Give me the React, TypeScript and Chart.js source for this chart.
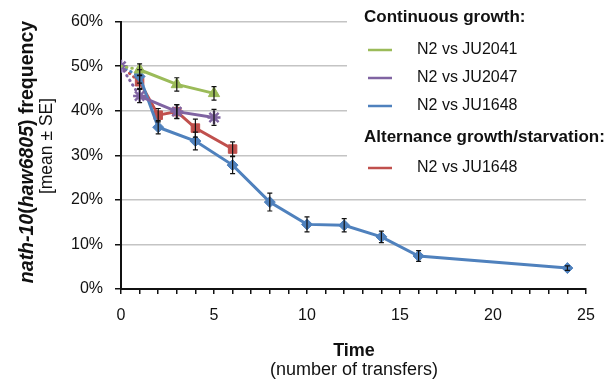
import React, { useEffect, useRef } from "react";
import { Chart, registerables } from "chart.js";

Chart.register(...registerables);

// ---- Data (frequency in %, x = number of transfers) ----
const seriesNames = ["N2 vs JU2041", "N2 vs JU2047", "N2 vs JU1648", "N2 vs JU1648"];

const greenX = [0, 1, 3, 5];
const greenY = [50, 49.2, 45.9, 43.9];
const greenErr = [0, 1.3, 1.5, 1.5];

const purpleX = [0, 1, 3, 5];
const purpleY = [50, 43.3, 39.8, 38.5];
const purpleErr = [0, 1.5, 1.6, 1.8];

const blueX = [0, 1, 2, 4, 6, 8, 10, 12, 14, 16, 24];
const blueY = [50, 47.7, 36.3, 33.2, 27.8, 19.5, 14.5, 14.3, 11.7, 7.4, 4.7];
const blueErr = [0, 1.5, 1.5, 2.0, 1.9, 2.0, 1.7, 1.5, 1.3, 1.2, 0.5];

const redX = [0, 1, 2, 3, 4, 6];
const redY = [50, 46.5, 39.0, 39.8, 36.1, 31.4];
const redErr = [0, 1.5, 1.5, 1.5, 2.0, 1.6];

const yTicks = [0, 10, 20, 30, 40, 50, 60];
const xLabelTicks = [0, 5, 10, 15, 20, 25];

const colors = ["#9bbb59", "#8064a2", "#4f81bd", "#c0504d"];
const FONT = "'Liberation Sans', Arial, sans-serif";

function pts(xs: number[], ys: number[]) {
  return xs.map((x, i) => ({ x, y: ys[i] }));
}

const errSets = [greenErr, purpleErr, blueErr, redErr];

const errorBarPlugin = {
  id: "errorBars",
  afterDatasetsDraw(chart: any) {
    const ctx = chart.ctx;
    const xs = chart.scales.x;
    const ys = chart.scales.y;
    ctx.save();
    ctx.strokeStyle = "#111";
    ctx.lineWidth = 1.2;
    chart.data.datasets.forEach((ds: any, i: number) => {
      const errs = errSets[i];
      ds.data.forEach((p: any, j: number) => {
        const e = errs[j];
        if (!e) return;
        const px = xs.getPixelForValue(p.x);
        const t = ys.getPixelForValue(p.y + e);
        const b = ys.getPixelForValue(p.y - e);
        ctx.beginPath();
        ctx.moveTo(px, t);
        ctx.lineTo(px, b);
        ctx.moveTo(px - 2.5, t);
        ctx.lineTo(px + 2.5, t);
        ctx.moveTo(px - 2.5, b);
        ctx.lineTo(px + 2.5, b);
        ctx.stroke();
      });
    });
    ctx.restore();
  },
};

const decorPlugin = {
  id: "decor",
  afterDraw(chart: any) {
    const ctx = chart.ctx;
    ctx.save();
    // legend background
    ctx.fillStyle = "#ffffff";
    ctx.fillRect(347, 0, 266, 189);
    ctx.textBaseline = "middle";
    ctx.textAlign = "left";
    ctx.fillStyle = "#111";
    ctx.font = `bold 17px ${FONT}`;
    ctx.fillText("Continuous growth:", 364, 17);
    ctx.fillText("Alternance growth/starvation:", 364, 137);
    const items = [
      { c: colors[0], t: seriesNames[0], y: 50 },
      { c: colors[1], t: seriesNames[1], y: 78 },
      { c: colors[2], t: seriesNames[2], y: 106 },
      { c: colors[3], t: seriesNames[3], y: 168 },
    ];
    ctx.font = `16px ${FONT}`;
    items.forEach((it) => {
      ctx.strokeStyle = it.c;
      ctx.lineWidth = 2.5;
      ctx.beginPath();
      ctx.moveTo(368, it.y);
      ctx.lineTo(392, it.y);
      ctx.stroke();
      ctx.fillStyle = "#111";
      ctx.fillText(it.t, 417, it.y);
    });

    // x axis title
    ctx.textAlign = "center";
    ctx.font = `bold 18px ${FONT}`;
    ctx.fillText("Time", 354, 351);
    ctx.font = `18px ${FONT}`;
    ctx.fillText("(number of transfers)", 354, 370);

    // y axis title (rotated)
    ctx.save();
    ctx.translate(28, 152);
    ctx.rotate(-Math.PI / 2);
    const segs = [
      { t: "nath-10", f: `italic bold 19.5px ${FONT}` },
      { t: "(", f: `bold 19.5px ${FONT}` },
      { t: "haw6805", f: `italic bold 19.5px ${FONT}` },
      { t: ") frequency", f: `bold 19.5px ${FONT}` },
    ];
    let total = 0;
    segs.forEach((s) => {
      ctx.font = s.f;
      total += ctx.measureText(s.t).width;
    });
    let cx = -total / 2;
    ctx.textAlign = "left";
    segs.forEach((s) => {
      ctx.font = s.f;
      ctx.fillText(s.t, cx, 0);
      cx += ctx.measureText(s.t).width;
    });
    ctx.restore();
    ctx.save();
    ctx.translate(47, 146);
    ctx.rotate(-Math.PI / 2);
    ctx.textAlign = "center";
    ctx.font = `17.5px ${FONT}`;
    ctx.fillText("[mean ± SE]", 0, 0);
    ctx.restore();

    ctx.restore();
  },
};

function makeDataset(i: number, xs: number[], ys: number[], style: string, r: number) {
  return {
    label: seriesNames[i],
    data: pts(xs, ys),
    borderColor: colors[i],
    backgroundColor: colors[i],
    pointBackgroundColor: colors[i],
    pointBorderColor: colors[i],
    borderWidth: 3,
    pointStyle: style,
    pointRadius: xs.map((_, j) => (j === 0 ? (i === 1 ? r : 0) : r)),
    pointBorderWidth: style === "star" ? 2.5 : 1,
    borderCapStyle: "round",
    tension: 0,
    segment: {
      borderDash: (c: any) => (c.p0DataIndex === 0 ? [0.5, 5] : undefined),
    },
  };
}

export default function App() {
  const ref = useRef<HTMLCanvasElement>(null);
  useEffect(() => {
    if (!ref.current) return;
    const chart = new Chart(ref.current, {
      type: "line",
      data: {
        datasets: [
          makeDataset(0, greenX, greenY, "triangle", 6.5),
          makeDataset(1, purpleX, purpleY, "star", 6.5),
          makeDataset(2, blueX, blueY, "rectRot", 5.5),
          makeDataset(3, redX, redY, "rect", 6),
        ] as any,
      },
      options: {
        responsive: false,
        animation: false,
        layout: { padding: { top: 18, right: 27, bottom: 0, left: 0 } },
        plugins: { legend: { display: false }, tooltip: { enabled: false } },
        scales: {
          x: {
            type: "linear",
            min: 0,
            max: 25,
            afterFit: (s: any) => {
              s.height = 99;
            },
            afterBuildTicks: (s: any) => {
              const t = [];
              for (let v = 0; v <= 25; v++) t.push({ value: v });
              s.ticks = t;
            },
            ticks: {
              autoSkip: false,
              maxRotation: 0,
              padding: 12,
              color: "#111",
              font: { family: FONT, size: 16 },
              callback: (v: any) => (xLabelTicks.includes(Number(v)) ? String(v) : ""),
            },
            grid: {
              drawOnChartArea: false,
              drawTicks: true,
              tickLength: 5,
              tickColor: "#111",
              lineWidth: 1.5,
            },
            border: { display: true, color: "#111", width: 2 },
          },
          y: {
            min: 0,
            max: 60,
            afterFit: (s: any) => {
              s.width = 121;
            },
            afterBuildTicks: (s: any) => {
              s.ticks = yTicks.map((v) => ({ value: v }));
            },
            ticks: {
              padding: 12,
              color: "#111",
              font: { family: FONT, size: 16 },
              callback: (v: any) => v + "%",
            },
            grid: {
              color: "#c4c4c4",
              lineWidth: 1.5,
              tickLength: 6,
              tickColor: "#111",
            },
            border: { display: true, color: "#111", width: 2 },
          },
        },
      },
      plugins: [errorBarPlugin, decorPlugin],
    });
    return () => chart.destroy();
  }, []);
  return (
    <div style={{ position: "fixed", left: 0, top: 0, width: 613, height: 388, background: "#fff" }}>
      <canvas ref={ref} width={613} height={388} />
    </div>
  );
}
